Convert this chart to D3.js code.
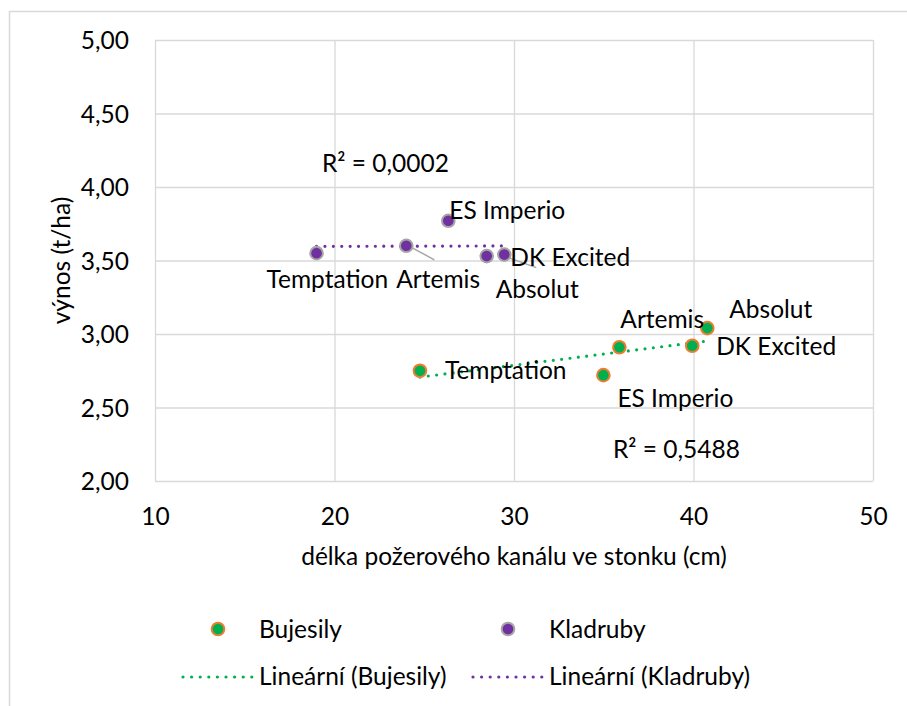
<!DOCTYPE html>
<html>
<head>
<meta charset="utf-8">
<script src="https://cdn.jsdelivr.net/npm/d3@7"></script>
<style>
  body { margin: 0; background: #fff; }
  svg { display: block; }
</style>
</head>
<body>
<svg id="chart" width="907" height="706"></svg>
<script>
// data
const names = ["Temptation", "ES Imperio", "Artemis", "DK Excited", "Absolut"];
const bujesilyX = [24.76, 34.98, 35.87, 39.93, 40.77];
const bujesilyY = [2.75, 2.72, 2.91, 2.92, 3.04];
const kladrubyX = [19.0, 26.34, 24.0, 29.46, 28.48];
const kladrubyY = [3.55, 3.77, 3.60, 3.54, 3.53];
const r2Text = ["R² = 0,5488", "R² = 0,0002"];
const xTicks = [10, 20, 30, 40, 50];
const yTicks = [2, 2.5, 3, 3.5, 4, 4.5, 5];

const width = 907, height = 706;
const svg = d3.select("#chart");
const font = "Lato, 'Open Sans', sans-serif";
const fontSize = 24.5;

const x = d3.scaleLinear().domain([10, 50]).range([155, 873]);
const y = d3.scaleLinear().domain([2, 5]).range([481, 40]);
const fmt = d3.formatLocale({decimal: ",", thousands: " ", grouping: [3], currency: ["", ""]}).format(".2f");

// outer chart frame (cut off on right / bottom like the original)
svg.append("rect")
  .attr("x", 9.5).attr("y", 11.5)
  .attr("width", 920).attr("height", 720)
  .attr("fill", "#fff")
  .attr("stroke", "#d9d9d9").attr("stroke-width", 1.5);

// gridlines
svg.append("g")
  .attr("transform", `translate(${x.range()[0]},0)`)
  .call(d3.axisLeft(y).tickValues(yTicks).tickSize(-(x.range()[1] - x.range()[0])).tickFormat(""))
  .call(g => g.select(".domain").remove())
  .call(g => g.selectAll("line").attr("stroke", "#d9d9d9").attr("stroke-width", 1.3));

svg.append("g")
  .attr("transform", `translate(0,${y.range()[0]})`)
  .call(d3.axisBottom(x).tickValues(xTicks).tickSize(-(y.range()[0] - y.range()[1])).tickFormat(""))
  .call(g => g.select(".domain").remove())
  .call(g => g.selectAll("line").attr("stroke", "#d9d9d9").attr("stroke-width", 1.3));

// tick labels
const yAxis = svg.append("g")
  .attr("transform", `translate(129,0)`)
  .call(d3.axisLeft(y).tickValues(yTicks).tickSize(0).tickPadding(0).tickFormat(fmt));
yAxis.select(".domain").remove();
yAxis.selectAll("text")
  .attr("font-family", font).attr("font-size", fontSize).attr("fill", "#000")
  .attr("x", 0).attr("dy", "0.36em");

const xAxis = svg.append("g")
  .attr("transform", `translate(0,${y.range()[0]})`)
  .call(d3.axisBottom(x).tickValues(xTicks).tickSize(0).tickPadding(0).tickFormat(d3.format("d")));
xAxis.select(".domain").remove();
xAxis.selectAll("text")
  .attr("font-family", font).attr("font-size", fontSize).attr("fill", "#000")
  .attr("y", 44).attr("dy", 0);

// axis titles
svg.append("text")
  .attr("x", (x.range()[0] + x.range()[1]) / 2).attr("y", 565)
  .attr("text-anchor", "middle")
  .attr("font-family", font).attr("font-size", fontSize).attr("fill", "#000")
  .text("délka požerového kanálu ve stonku (cm)");

svg.append("text")
  .attr("transform", `translate(70,${(y.range()[0] + y.range()[1]) / 2}) rotate(-90)`)
  .attr("text-anchor", "middle")
  .attr("font-family", font).attr("font-size", fontSize).attr("fill", "#000")
  .text("výnos (t/ha)");

// linear trendlines (least squares)
function linReg(xs, ys) {
  const mx = d3.mean(xs), my = d3.mean(ys);
  const sxy = d3.sum(xs, (v, i) => (v - mx) * (ys[i] - my));
  const sxx = d3.sum(xs, v => (v - mx) * (v - mx));
  const b = sxy / sxx;
  return v => my + b * (v - mx);
}

const series = [
  {name: "Bujesily", xs: bujesilyX, ys: bujesilyY, fill: "#00b050", stroke: "#ed7d31", line: "#00b050", r2: r2Text[0]},
  {name: "Kladruby", xs: kladrubyX, ys: kladrubyY, fill: "#7030a0", stroke: "#a5a5a5", line: "#7030a0", r2: r2Text[1]}
];

// label placement (pixel offsets from the point, text start / baseline)
const labelPos = {
  Bujesily: {
    "Temptation": [25, 8], "ES Imperio": [14, 32], "Artemis": [1, -19],
    "DK Excited": [24, 9], "Absolut": [22, -10]
  },
  Kladruby: {
    "Temptation": [-50, 35], "ES Imperio": [1, -2], "Artemis": [-10, 42],
    "DK Excited": [6, 11], "Absolut": [9, 42]
  }
};
const leaders = {
  Kladruby: {"Artemis": [6, 2, 28, 14], "DK Excited": [4, 3, 32, 13]}
};
const r2Pos = {Bujesily: [613, 458], Kladruby: [322, 172]};

const line = d3.line().x(d => x(d[0])).y(d => y(d[1]));

series.forEach(s => {
  const f = linReg(s.xs, s.ys);
  const [x0, x1] = d3.extent(s.xs);
  svg.append("path")
    .attr("d", line([[x0, f(x0)], [x1, f(x1)]]))
    .attr("fill", "none")
    .attr("stroke", s.line)
    .attr("stroke-width", 3.2)
    .attr("stroke-linecap", "round")
    .attr("stroke-dasharray", "0 8.4");
});

series.forEach(s => {
  const lp = leaders[s.name] || {};
  names.forEach((n, i) => {
    if (lp[n]) {
      const px = x(s.xs[i]), py = y(s.ys[i]);
      svg.append("line")
        .attr("x1", px + lp[n][0]).attr("y1", py + lp[n][1])
        .attr("x2", px + lp[n][2]).attr("y2", py + lp[n][3])
        .attr("stroke", "#a6a6a6").attr("stroke-width", 1.5);
    }
  });
  svg.append("g").selectAll("circle")
    .data(s.xs.map((v, i) => [v, s.ys[i]]))
    .join("circle")
    .attr("cx", d => x(d[0])).attr("cy", d => y(d[1]))
    .attr("r", 6.3)
    .attr("fill", s.fill)
    .attr("stroke", s.stroke)
    .attr("stroke-width", 2);
});

series.forEach(s => {
  names.forEach((n, i) => {
    const off = labelPos[s.name][n];
    svg.append("text")
      .attr("x", x(s.xs[i]) + off[0]).attr("y", y(s.ys[i]) + off[1])
      .attr("font-family", font).attr("font-size", fontSize).attr("fill", "#000")
      .text(n);
  });
  svg.append("text")
    .attr("x", r2Pos[s.name][0]).attr("y", r2Pos[s.name][1])
    .attr("font-family", font).attr("font-size", fontSize).attr("fill", "#000")
    .text(s.r2);
});

// legend
const legend = [
  {col: 0, row: 0, type: "marker", s: series[0], text: "Bujesily"},
  {col: 1, row: 0, type: "marker", s: series[1], text: "Kladruby"},
  {col: 0, row: 1, type: "line", s: series[0], text: "Lineární (Bujesily)"},
  {col: 1, row: 1, type: "line", s: series[1], text: "Lineární (Kladruby)"}
];
const legX = [259, 549], legY = [638, 685];
legend.forEach(d => {
  const tx = legX[d.col], ty = legY[d.row];
  if (d.type === "marker") {
    svg.append("circle")
      .attr("cx", tx - 41).attr("cy", ty - 9).attr("r", 6.3)
      .attr("fill", d.s.fill).attr("stroke", d.s.stroke).attr("stroke-width", 2);
  } else {
    svg.append("line")
      .attr("x1", tx - 76).attr("x2", tx - 6)
      .attr("y1", ty - 8).attr("y2", ty - 8)
      .attr("stroke", d.s.line).attr("stroke-width", 3.2)
      .attr("stroke-linecap", "round").attr("stroke-dasharray", "0 8.6");
  }
  svg.append("text")
    .attr("x", tx).attr("y", ty)
    .attr("font-family", font).attr("font-size", fontSize).attr("fill", "#000")
    .text(d.text);
});
</script>
</body>
</html>
